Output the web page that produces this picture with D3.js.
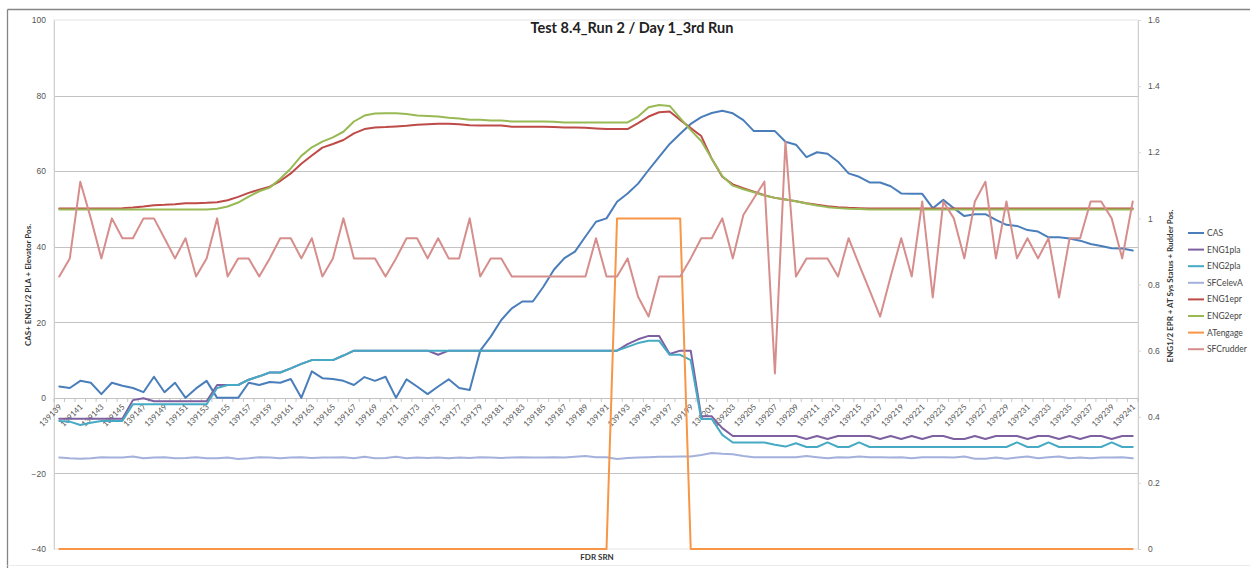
<!DOCTYPE html>
<html>
<head>
<meta charset="utf-8">
<script src="https://cdn.jsdelivr.net/npm/d3@7"></script>
<style>
  html, body { margin: 0; padding: 0; background: #fff; }
  svg { display: block; font-family: Lato, "Open Sans", "Liberation Sans", sans-serif; }
</style>
</head>
<body>
<svg id="chart" width="1250" height="568"></svg>
<script>
// FDR sample numbers on the category axis
const srnFirst = 139139;
const srnLast = 139241;
const srn = d3.range(srnFirst, srnLast + 1);

// Primary axis series (CAS, PLA, elevator)
const CAS = [3.0, 2.6, 4.5, 4.0, 1.0, 4.0, 3.2, 2.6, 1.5, 5.6,
  1.5, 4.0, 0, 2.5, 4.5, 0, 0, 0, 4.0, 3.4,
  4.2, 4.0, 5.0, 0, 7.0, 5.2, 5.0, 4.5, 3.4, 5.5,
  4.5, 5.6, 0, 4.9, 3.0, 1.0, 3.0, 4.9, 2.6, 2.1,
  12.5, 16.2, 20.6, 23.7, 25.5, 25.5, 29.4, 33.9, 37.0, 38.7,
  42.7, 46.6, 47.5, 51.9, 54.1, 56.7, 60.3, 63.8, 67.2, 69.9,
  72.5, 74.3, 75.4, 76.0, 75.3, 73.5, 70.6, 70.6, 70.6, 67.8,
  67.0, 63.7, 65.0, 64.6, 62.5, 59.4, 58.5, 57.0, 57.0, 56.0,
  54.1, 54.0, 54.0, 50.2, 52.4, 50.2, 48.1, 48.6, 48.6, 47.1,
  45.8, 45.5, 44.4, 44.0, 42.5, 42.5, 42.2, 41.6, 40.7, 40.2,
  39.6, 39.5, 39.0];

const ENG1pla = [-5.5, -5.5, -5.5, -5.5, -5.5, -5.5, -5.5, -0.6, -0.1, -0.9,
  -0.9, -0.9, -0.9, -0.9, -0.9, 3.4, 3.4, 3.4, 4.8, 5.7,
  6.7, 6.7, 7.8, 9.0, 10.0, 10.0, 10.0, 11.2, 12.5, 12.5,
  12.5, 12.5, 12.5, 12.5, 12.5, 12.5, 11.4, 12.5, 12.5, 12.5,
  12.5, 12.5, 12.5, 12.5, 12.5, 12.5, 12.5, 12.5, 12.5, 12.5,
  12.5, 12.5, 12.5, 12.5, 14.2, 15.5, 16.4, 16.4, 11.6, 12.5,
  12.5, -4.9, -4.9, -8.0, -10.1, -10.1, -10.1, -10.1, -10.1, -10.1,
  -10.1, -10.9, -10.1, -10.9, -10.1, -10.1, -10.1, -10.1, -10.9, -10.1,
  -10.9, -10.1, -10.9, -10.1, -10.1, -10.9, -10.9, -10.1, -10.9, -10.1,
  -10.1, -10.1, -10.9, -10.1, -10.1, -10.9, -10.1, -10.9, -10.1, -10.1,
  -10.9, -10.1, -10.1];

const ENG2pla = [-6.1, -6.3, -7.2, -6.6, -6.1, -6.1, -6.1, -1.7, -1.7, -1.7,
  -1.7, -1.7, -1.7, -1.7, -1.7, 2.6, 3.4, 3.4, 4.8, 5.7,
  6.7, 6.7, 7.8, 9.0, 10.0, 10.0, 10.0, 11.2, 12.5, 12.5,
  12.5, 12.5, 12.5, 12.5, 12.5, 12.5, 12.5, 12.5, 12.5, 12.5,
  12.5, 12.5, 12.5, 12.5, 12.5, 12.5, 12.5, 12.5, 12.5, 12.5,
  12.5, 12.5, 12.5, 12.5, 13.5, 14.5, 15.1, 15.1, 11.4, 11.4,
  10.0, -5.6, -5.6, -9.8, -11.8, -11.8, -11.8, -11.8, -12.4, -12.9,
  -12.0, -13.0, -13.0, -11.8, -13.0, -13.0, -11.8, -13.0, -13.0, -13.0,
  -13.0, -13.0, -13.0, -13.0, -13.0, -13.0, -13.0, -13.0, -13.0, -13.0,
  -13.0, -11.8, -13.0, -13.0, -11.8, -13.0, -13.0, -13.0, -13.0, -13.0,
  -11.8, -13.0, -13.0];

const SFCelevA = [-15.8, -16.0, -16.1, -16.0, -15.7, -15.8, -15.8, -15.5, -16.0, -15.8,
  -15.7, -16.0, -15.9, -15.7, -16.0, -16.0, -15.8, -16.2, -16.0, -15.7,
  -15.8, -16.0, -15.8, -15.7, -15.9, -15.8, -15.8, -15.7, -16.0, -15.6,
  -16.0, -15.9, -15.6, -16.0, -15.8, -15.9, -15.8, -16.0, -15.8, -15.9,
  -15.7, -15.8, -15.9, -15.8, -15.7, -15.8, -15.8, -15.7, -15.8, -15.6,
  -15.4, -15.7, -15.7, -16.2, -15.9, -15.8, -15.7, -15.6, -15.6, -15.5,
  -15.5, -15.1, -14.6, -14.8, -14.9, -15.4, -15.7, -15.7, -15.7, -15.7,
  -15.7, -15.4, -15.7, -16.0, -15.7, -15.8, -15.5, -15.7, -15.7, -15.8,
  -15.7, -16.0, -15.7, -15.7, -15.7, -15.8, -15.5, -16.1, -16.1, -15.8,
  -16.1, -15.8, -15.5, -16.0, -15.7, -15.5, -16.0, -15.8, -16.0, -15.8,
  -15.8, -15.7, -16.0];

// Secondary axis series (EPR, autothrottle status, rudder)
const ENG1epr = [1.030, 1.030, 1.030, 1.030, 1.030, 1.030, 1.031, 1.033, 1.036, 1.040,
  1.041, 1.043, 1.046, 1.046, 1.047, 1.049, 1.055, 1.065, 1.077, 1.087,
  1.096, 1.113, 1.136, 1.165, 1.190, 1.214, 1.225, 1.237, 1.257, 1.270,
  1.275, 1.276, 1.278, 1.280, 1.283, 1.285, 1.286, 1.286, 1.285, 1.282,
  1.281, 1.281, 1.281, 1.277, 1.277, 1.277, 1.277, 1.276, 1.275, 1.275,
  1.274, 1.272, 1.270, 1.270, 1.270, 1.288, 1.308, 1.321, 1.323, 1.298,
  1.273, 1.249, 1.180, 1.126, 1.103, 1.091, 1.081, 1.070, 1.062, 1.057,
  1.052, 1.046, 1.041, 1.037, 1.034, 1.032, 1.031, 1.030, 1.030, 1.030,
  1.030, 1.030, 1.030, 1.030, 1.030, 1.030, 1.030, 1.030, 1.030, 1.030,
  1.030, 1.030, 1.030, 1.030, 1.030, 1.030, 1.030, 1.030, 1.030, 1.030,
  1.030, 1.030, 1.030];

const ENG2epr = [1.027, 1.027, 1.027, 1.027, 1.027, 1.027, 1.027, 1.027, 1.027, 1.027,
  1.027, 1.027, 1.027, 1.027, 1.027, 1.029, 1.036, 1.048, 1.066, 1.082,
  1.093, 1.120, 1.151, 1.189, 1.215, 1.232, 1.245, 1.262, 1.293, 1.311,
  1.317, 1.318, 1.318, 1.316, 1.311, 1.310, 1.308, 1.304, 1.302, 1.298,
  1.298, 1.296, 1.296, 1.293, 1.293, 1.293, 1.293, 1.292, 1.290, 1.290,
  1.290, 1.290, 1.290, 1.290, 1.290, 1.308, 1.336, 1.343, 1.340, 1.303,
  1.267, 1.234, 1.180, 1.128, 1.099, 1.088, 1.079, 1.069, 1.062, 1.057,
  1.052, 1.045, 1.039, 1.034, 1.031, 1.029, 1.028, 1.027, 1.027, 1.027,
  1.027, 1.027, 1.027, 1.027, 1.027, 1.027, 1.027, 1.027, 1.027, 1.027,
  1.027, 1.027, 1.027, 1.027, 1.027, 1.027, 1.027, 1.027, 1.027, 1.027,
  1.027, 1.027, 1.027];

const ATengage = [0, 0, 0, 0, 0, 0, 0, 0, 0, 0,
  0, 0, 0, 0, 0, 0, 0, 0, 0, 0,
  0, 0, 0, 0, 0, 0, 0, 0, 0, 0,
  0, 0, 0, 0, 0, 0, 0, 0, 0, 0,
  0, 0, 0, 0, 0, 0, 0, 0, 0, 0,
  0, 0, 0, 1, 1, 1, 1, 1, 1, 1,
  0, 0, 0, 0, 0, 0, 0, 0, 0, 0,
  0, 0, 0, 0, 0, 0, 0, 0, 0, 0,
  0, 0, 0, 0, 0, 0, 0, 0, 0, 0,
  0, 0, 0, 0, 0, 0, 0, 0, 0, 0,
  0, 0, 0];

const SFCrudder = [0.824, 0.879, 1.111, 1.000, 0.879, 1.000, 0.940, 0.940, 1.000, 1.000,
  0.940, 0.879, 0.940, 0.824, 0.879, 1.000, 0.824, 0.879, 0.879, 0.824,
  0.879, 0.940, 0.940, 0.879, 0.940, 0.824, 0.879, 1.000, 0.879, 0.879,
  0.879, 0.824, 0.879, 0.940, 0.940, 0.879, 0.940, 0.879, 0.879, 1.000,
  0.824, 0.879, 0.879, 0.824, 0.824, 0.824, 0.824, 0.824, 0.824, 0.824,
  0.824, 0.940, 0.824, 0.824, 0.879, 0.763, 0.703, 0.824, 0.824, 0.824,
  0.879, 0.940, 0.940, 1.000, 0.879, 1.010, 1.061, 1.111, 0.531, 1.232,
  0.824, 0.879, 0.879, 0.879, 0.824, 0.940, 0.860, 0.782, 0.703, 0.824,
  0.940, 0.824, 1.051, 0.761, 1.051, 1.000, 0.879, 1.051, 1.111, 0.879,
  1.051, 0.879, 0.940, 0.879, 0.940, 0.761, 0.940, 0.940, 1.051, 1.051,
  1.000, 0.879, 1.051];

// Axis ticks
const leftTicks = [-40, -20, 0, 20, 40, 60, 80, 100];
const rightTicks = [0, 0.2, 0.4, 0.6, 0.8, 1, 1.2, 1.4, 1.6];

const series = [
  { name: "CAS",       values: CAS,       axis: "L", color: "#4A7EBB" },
  { name: "ENG1pla",   values: ENG1pla,   axis: "L", color: "#7D60A0" },
  { name: "ENG2pla",   values: ENG2pla,   axis: "L", color: "#46AAC5" },
  { name: "SFCelevA",  values: SFCelevA,  axis: "L", color: "#A3B1DC" },
  { name: "ENG1epr",   values: ENG1epr,   axis: "R", color: "#BE4B48" },
  { name: "ENG2epr",   values: ENG2epr,   axis: "R", color: "#98B954" },
  { name: "ATengage",  values: ATengage,  axis: "R", color: "#F79646" },
  { name: "SFCrudder", values: SFCrudder, axis: "R", color: "#D68E8C" }
];

const svg = d3.select("#chart");
const W = 1250, H = 568;
const plot = { left: 54, right: 1138, top: 20, bottom: 549 };

svg.append("rect").attr("width", W).attr("height", H).attr("fill", "#fff");

// Chart frame
svg.append("line").attr("x1", 7.5).attr("x2", W).attr("y1", 9.5).attr("y2", 9.5)
  .attr("stroke", "#858585").attr("stroke-width", 1.3);
svg.append("line").attr("x1", 7.5).attr("x2", 7.5).attr("y1", 9.5).attr("y2", H)
  .attr("stroke", "#858585").attr("stroke-width", 1.3);
svg.append("line").attr("x1", 7.5).attr("x2", W).attr("y1", 565.5).attr("y2", 565.5)
  .attr("stroke", "#ececec").attr("stroke-width", 1);

const x = d3.scalePoint().domain(srn).range([plot.left, plot.right]).padding(0.5);
const yL = d3.scaleLinear().domain([-40, 100]).range([plot.bottom, plot.top]);
const yR = d3.scaleLinear().domain([0, 1.6]).range([plot.bottom, plot.top]);
const step = x.step();

// Plot area border and gridlines
svg.append("rect")
  .attr("x", plot.left).attr("y", plot.top)
  .attr("width", plot.right - plot.left).attr("height", plot.bottom - plot.top)
  .attr("fill", "none").attr("stroke", "#e4e4e4");

svg.append("g").selectAll("line")
  .data(leftTicks.filter(d => d > -40 && d < 100))
  .join("line")
  .attr("x1", plot.left).attr("x2", plot.right)
  .attr("y1", d => Math.round(yL(d)) + 0.5).attr("y2", d => Math.round(yL(d)) + 0.5)
  .attr("stroke", "#c3c3c3").attr("stroke-width", 1);

// Left axis
const axisL = svg.append("g").attr("transform", `translate(${plot.left},0)`)
  .call(d3.axisLeft(yL).tickValues(leftTicks).tickSize(0).tickPadding(8));
axisL.select(".domain").attr("stroke", "#d0d0d0");
axisL.selectAll("text").attr("font-size", 8.5).attr("fill", "#555");

// Right axis
const fmtR = d => d === 0 ? "0" : String(+d.toFixed(1));
const axisR = svg.append("g").attr("transform", `translate(${plot.right},0)`)
  .call(d3.axisRight(yR).tickValues(rightTicks).tickSize(3).tickPadding(7).tickFormat(fmtR));
axisR.select(".domain").attr("stroke", "#d0d0d0");
axisR.selectAll(".tick line").attr("stroke", "#d8d8d8");
axisR.selectAll("text").attr("font-size", 8.5).attr("fill", "#555");

// Category axis sits on the zero line of the primary axis
const y0 = Math.round(yL(0)) + 0.5;
svg.append("g").selectAll("line")
  .data(srn.concat([srnLast + 1]))
  .join("line")
  .attr("x1", (d, i) => plot.left + i * step).attr("x2", (d, i) => plot.left + i * step)
  .attr("y1", y0).attr("y2", y0 + 3.5)
  .attr("stroke", "#b8b8b8").attr("stroke-width", 0.8);

svg.append("g").selectAll("text")
  .data(srn.filter((d, i) => i % 2 === 0))
  .join("text")
  .attr("transform", d => `translate(${x(d) + 3},${y0 + 9}) rotate(-45)`)
  .attr("text-anchor", "end")
  .attr("font-size", 8)
  .attr("fill", "#555")
  .text(d => d);

// Series lines
const g = svg.append("g");
series.forEach(s => {
  const yS = s.axis === "L" ? yL : yR;
  const line = d3.line()
    .x((d, i) => x(srn[i]))
    .y(d => yS(d));
  g.append("path")
    .datum(s.values)
    .attr("d", line)
    .attr("fill", "none")
    .attr("stroke", s.color)
    .attr("stroke-width", 2)
    .attr("stroke-linejoin", "round")
    .attr("stroke-linecap", "round");
});

// Titles
svg.append("text")
  .attr("x", 632).attr("y", 33)
  .attr("text-anchor", "middle")
  .attr("font-size", 14.5).attr("font-weight", "bold").attr("fill", "#222")
  .text("Test 8.4_Run 2 / Day 1_3rd Run");

svg.append("text")
  .attr("transform", "translate(31,285) rotate(-90)")
  .attr("text-anchor", "middle")
  .attr("font-size", 8).attr("font-weight", "bold").attr("fill", "#333")
  .text("CAS+ ENG1/2 PLA + Elevator Pos.");

svg.append("text")
  .attr("transform", "translate(1173,286) rotate(-90)")
  .attr("text-anchor", "middle")
  .attr("font-size", 8).attr("font-weight", "bold").attr("fill", "#333")
  .text("ENG1/2 EPR + AT Sys Status + Rudder Pos.");

svg.append("text")
  .attr("x", 597).attr("y", 560)
  .attr("text-anchor", "middle")
  .attr("font-size", 8).attr("font-weight", "bold").attr("fill", "#333")
  .text("FDR SRN");

// Legend
const legend = svg.append("g").attr("transform", "translate(1188,233)");
const items = legend.selectAll("g").data(series).join("g")
  .attr("transform", (d, i) => `translate(0,${i * 16.6})`);
items.append("line").attr("x1", 0).attr("x2", 16).attr("y1", 0).attr("y2", 0)
  .attr("stroke", d => d.color).attr("stroke-width", 2);
items.append("text").attr("x", 19).attr("y", 3)
  .attr("font-size", 8.5).attr("fill", "#444")
  .text(d => d.name);
</script>
</body>
</html>
